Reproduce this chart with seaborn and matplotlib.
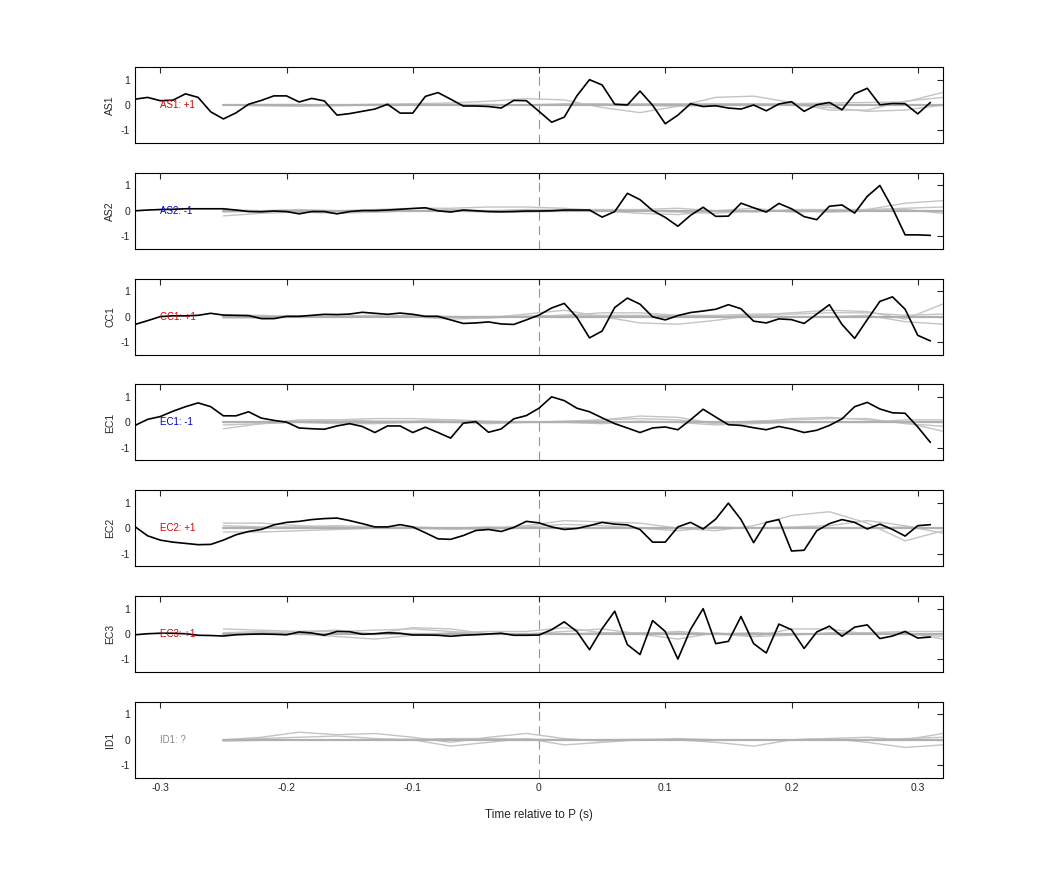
import numpy as np
import pandas as pd
import matplotlib
matplotlib.use("Agg")
import matplotlib.pyplot as plt
import seaborn as sns

sns.set_style("white")
plt.rcParams['font.family'] = ['Liberation Sans', 'DejaVu Sans']
plt.rcParams['axes.unicode_minus'] = False

t_black = np.round(np.arange(-0.32, 0.315, 0.01), 2)
t_gray = np.round(np.arange(-0.25, 0.33, 0.03), 2)

channels = ["AS1", "AS2", "CC1", "EC1", "EC2", "EC3", "ID1"]
labels = ["AS1: +1", "AS2: -1", "CC1: +1", "EC1: -1", "EC2: +1", "EC3: +1", "ID1: ?"]
label_colors = ["#dd0000", "#0000cc", "#dd0000", "#0000cc", "#dd0000", "#dd0000", "#888888"]

as1 = [0.23, 0.30, 0.17, 0.19, 0.44, 0.30, -0.27, -0.55, -0.31, 0.03, 0.18, 0.36, 0.36, 0.12, 0.26, 0.16,
       -0.40, -0.34, -0.25, -0.16, 0.03, -0.32, -0.32, 0.34, 0.49, 0.23, -0.04, -0.04, -0.06, -0.12, 0.18, 0.17,
       -0.25, -0.68, -0.48, 0.36, 1.0, 0.79, 0.03, 0.0, 0.55, -0.01, -0.74, -0.40, 0.05, -0.06, -0.03, -0.12,
       -0.16, 0.0, -0.23, 0.04, 0.13, -0.25, 0.01, 0.10, -0.19, 0.44, 0.66, 0.01, 0.06, 0.05, -0.35, 0.10]
as2 = [0.0, 0.03, 0.05, 0.06, 0.08, 0.08, 0.08, 0.08, 0.03, -0.03, -0.04, -0.01, -0.03, -0.12, -0.03, -0.03,
       -0.12, -0.03, 0.01, 0.01, 0.03, 0.06, 0.09, 0.12, 0.0, -0.05, 0.03, 0.0, -0.03, -0.04, -0.03, -0.01,
       -0.01, 0.0, 0.03, 0.03, 0.03, -0.25, -0.03, 0.69, 0.44, 0.01, -0.26, -0.61, -0.18, 0.14, -0.22, -0.21,
       0.30, 0.12, -0.05, 0.29, 0.08, -0.23, -0.35, 0.18, 0.23, -0.09, 0.57, 1.0, 0.10, -0.95, -0.95, -0.97]
cc1 = [-0.31, -0.16, 0.0, 0.03, 0.03, 0.05, 0.13, 0.06, 0.05, 0.04, -0.08, -0.08, 0.01, 0.01, 0.05, 0.09,
       0.08, 0.10, 0.17, 0.13, 0.09, 0.14, 0.09, 0.01, 0.01, -0.13, -0.27, -0.25, -0.21, -0.29, -0.31, -0.13,
       0.06, 0.34, 0.52, -0.03, -0.84, -0.57, 0.36, 0.73, 0.49, -0.01, -0.13, 0.04, 0.16, 0.22, 0.29, 0.47,
       0.31, -0.18, -0.25, -0.09, -0.12, -0.27, 0.10, 0.47, -0.31, -0.86, -0.12, 0.60, 0.78, 0.29, -0.74, -0.96]
ec1 = [-0.12, 0.12, 0.23, 0.44, 0.62, 0.77, 0.62, 0.26, 0.26, 0.42, 0.17, 0.08, 0.01, -0.22, -0.25, -0.27,
       -0.14, -0.05, -0.16, -0.40, -0.14, -0.14, -0.40, -0.19, -0.40, -0.62, -0.03, 0.03, -0.39, -0.26, 0.14, 0.27,
       0.56, 1.01, 0.86, 0.56, 0.42, 0.18, -0.05, -0.22, -0.40, -0.22, -0.18, -0.29, 0.10, 0.52, 0.21, -0.09,
       -0.12, -0.21, -0.29, -0.16, -0.26, -0.40, -0.31, -0.12, 0.14, 0.62, 0.79, 0.53, 0.38, 0.36, -0.18, -0.79]
ec2 = [0.06, -0.30, -0.47, -0.55, -0.60, -0.65, -0.64, -0.47, -0.26, -0.13, -0.05, 0.13, 0.23, 0.27, 0.34, 0.38,
       0.40, 0.30, 0.18, 0.05, 0.05, 0.14, 0.05, -0.18, -0.42, -0.44, -0.29, -0.09, -0.05, -0.13, 0.03, 0.27,
       0.21, 0.05, -0.05, -0.01, 0.10, 0.23, 0.16, 0.13, -0.05, -0.55, -0.55, 0.05, 0.23, -0.03, 0.36, 0.99,
       0.34, -0.57, 0.23, 0.34, -0.90, -0.87, -0.10, 0.18, 0.34, 0.23, -0.03, 0.16, -0.05, -0.31, 0.10, 0.14]
ec3 = [-0.03, 0.01, 0.03, 0.03, 0.01, -0.05, -0.06, -0.08, -0.03, -0.01, 0.0, -0.01, -0.03, 0.08, 0.04, -0.05,
       0.10, 0.09, -0.01, 0.01, 0.05, 0.03, -0.04, -0.04, -0.05, -0.09, -0.05, -0.03, 0.0, 0.03, -0.05, -0.05,
       -0.04, 0.17, 0.48, 0.10, -0.62, 0.21, 0.90, -0.42, -0.81, 0.53, 0.10, -0.99, 0.18, 1.0, -0.38, -0.29,
       0.69, -0.38, -0.75, 0.39, 0.17, -0.57, 0.08, 0.31, -0.09, 0.27, 0.36, -0.18, -0.08, 0.10, -0.16, -0.12]
black_series = [as1, as2, cc1, ec1, ec2, ec3, None]

# gray traces, sampled every 0.03 s from -0.25 s
gray_as1 = [[0, 0.0, -0.02, 0.0, 0.03, 0.05, 0.08, 0.15, 0.25, 0.2, -0.1, -0.3, -0.05, 0.3, 0.35, 0.1, -0.2, -0.2, 0.15, 0.3],
            [0, -0.03, -0.05, -0.03, 0.0, 0.02, 0.0, -0.03, 0.0, 0.05, 0.05, 0.0, -0.05, 0.0, 0.05, 0.0, -0.1, -0.25, -0.2, 0.0],
            [0, 0.02, 0.02, 0.0, 0.0, 0.0, 0.02, 0.02, 0.0, 0.0, 0.02, 0.05, 0.05, 0.05, 0.05, 0.05, 0.08, 0.1, 0.12, 0.5]]
gray_as2 = [[-0.2, -0.1, -0.05, 0.0, 0.05, 0.1, 0.1, 0.15, 0.15, 0.1, 0.0, -0.1, -0.15, 0.0, 0.1, -0.05, 0.0, 0.05, 0.3, 0.4],
            [-0.05, 0.0, 0.05, 0.0, -0.05, 0.0, 0.05, 0.0, 0.05, 0.05, 0.05, 0.05, 0.1, 0.0, -0.05, 0.05, 0.05, 0.05, 0.1, 0.15],
            [0.05, 0.0, -0.05, -0.1, -0.05, 0.0, 0.0, -0.05, -0.05, 0.0, 0.0, 0.0, -0.05, -0.1, 0.0, 0.0, -0.05, 0.0, 0.05, -0.1]]
gray_cc1 = [[0.05, 0.05, 0.0, 0.0, 0.02, 0.05, 0.0, -0.05, 0.1, 0.25, 0.0, -0.25, -0.3, -0.15, 0.05, 0.15, 0.25, 0.2, -0.1, 0.5],
            [-0.05, -0.05, 0.0, 0.02, 0.05, 0.0, -0.1, -0.05, 0.0, 0.05, 0.15, 0.15, 0.05, 0.0, 0.05, 0.0, 0.0, 0.05, -0.2, -0.3],
            [0, 0.02, 0.03, 0.0, 0.0, 0.0, 0.0, 0.0, 0.02, 0.05, 0.05, 0.05, 0.05, 0.05, 0.1, 0.1, 0.15, 0.15, 0.05, 0.1]]
gray_ec1 = [[-0.25, -0.05, 0.1, 0.1, 0.05, 0.05, 0.1, 0.0, 0.0, 0.05, 0.1, 0.25, 0.2, -0.05, 0.0, 0.15, 0.2, 0.1, 0.0, -0.35],
            [0, 0.0, 0.05, 0.1, 0.15, 0.15, 0.1, 0.05, 0.0, 0.0, 0.1, 0.15, 0.1, -0.05, 0.05, 0.1, 0.15, 0.15, -0.05, -0.15],
            [-0.1, -0.05, 0.0, -0.05, -0.05, 0.0, 0.0, -0.05, 0.0, 0.0, -0.05, 0.05, 0.0, -0.1, -0.05, 0.0, 0.0, 0.0, 0.1, 0.1]]
gray_ec2 = [[0.2, 0.2, 0.1, 0.05, 0.0, 0.0, -0.05, 0.0, 0.1, 0.3, 0.25, 0.2, 0.0, -0.1, 0.1, 0.5, 0.65, 0.2, -0.5, -0.1],
            [-0.15, -0.15, -0.1, -0.05, 0.0, 0.05, 0.0, -0.05, 0.05, 0.15, 0.1, 0.0, -0.1, 0.05, 0.0, 0.05, 0.1, 0.3, 0.1, -0.2],
            [0.1, 0.05, 0.05, 0.1, 0.05, 0.0, 0.0, 0.05, 0.0, 0.0, 0.0, 0.0, 0.0, 0.0, 0.0, 0.0, 0.0, 0.0, 0.05, 0.0]]
gray_ec3 = [[0.2, 0.15, 0.1, 0.15, 0.0, 0.25, 0.2, 0.0, 0.0, 0.1, 0.2, 0.0, -0.2, 0.05, -0.1, 0.2, 0.2, 0.0, 0.05, -0.2],
            [0.05, 0.1, 0.0, -0.1, -0.2, -0.05, 0.05, 0.1, 0.1, 0.25, 0.05, 0.0, 0.1, 0.0, -0.1, -0.05, 0.05, 0.05, 0.0, -0.1],
            [0.0, 0.05, 0.1, 0.1, 0.15, 0.2, 0.1, 0.0, 0.0, 0.0, 0.05, 0.05, 0.05, 0.0, 0.05, 0.0, 0.0, 0.05, 0.1, 0.1]]
gray_id1 = [[0, 0.1, 0.3, 0.2, 0.25, 0.1, -0.1, 0.1, 0.25, 0.05, -0.05, 0.0, 0.05, 0.0, 0.0, 0.0, 0.05, 0.1, 0.0, 0.25],
            [0, 0.05, 0.1, 0.15, 0.05, 0.0, -0.25, -0.1, 0.05, -0.2, -0.1, 0.0, 0.0, -0.1, -0.25, 0.0, 0.05, -0.1, -0.3, -0.2],
            [-0.05, -0.02, 0.0, 0.0, 0.0, 0.02, 0.05, 0.05, 0.03, 0.0, 0.0, 0.02, 0.0, 0.0, 0.0, 0.0, 0.02, 0.0, 0.05, 0.1]]
gray_series = [gray_as1, gray_as2, gray_cc1, gray_ec1, gray_ec2, gray_ec3, gray_id1]

fig = plt.figure(figsize=(10.42, 8.75), dpi=100)
W, H = 1042, 875
left, right = 135, 943
tops = [67 + i * 105.8 for i in range(7)]
ph = 76

for i, ch in enumerate(channels):
    ax = fig.add_axes([left / W, 1 - (tops[i] + ph) / H, (right - left) / W, ph / H])
    for g in gray_series[i]:
        sns.lineplot(x=t_gray, y=g, ax=ax, color="#c4c4c4", linewidth=1.0)
    sns.lineplot(x=t_gray, y=np.zeros(len(t_gray)), ax=ax, color="#b0b0b0", linewidth=1.6)
    if black_series[i] is not None:
        sns.lineplot(x=t_black, y=black_series[i], ax=ax, color="black", linewidth=1.2)
    ax.axvline(0, color="#e87070", linestyle=(0, (8, 5)), linewidth=0.8, zorder=0)
    ax.text(-0.3, 0, labels[i], color=label_colors[i], fontsize=7, va="center", ha="left")
    ax.set_xlim(-0.32, 0.32)
    ax.set_ylim(-1.5, 1.5)
    ax.set_yticks([-1, 0, 1])
    ax.set_xticks([-0.3, -0.2, -0.1, 0, 0.1, 0.2, 0.3])
    ax.tick_params(direction="in", top=True, right=True, labelsize=7.5, length=4, width=0.8)
    ax.set_ylabel(ch, fontsize=7.5)
    for s in ax.spines.values():
        s.set_linewidth(0.8)
        s.set_color("black")
    if i < 6:
        ax.set_xticklabels([])
    else:
        ax.set_xticklabels(["-0.3", "-0.2", "-0.1", "0", "0.1", "0.2", "0.3"])
        ax.set_xlabel("Time relative to P (s)", fontsize=8.5, labelpad=12)

fig.savefig("out.png", dpi=100)
